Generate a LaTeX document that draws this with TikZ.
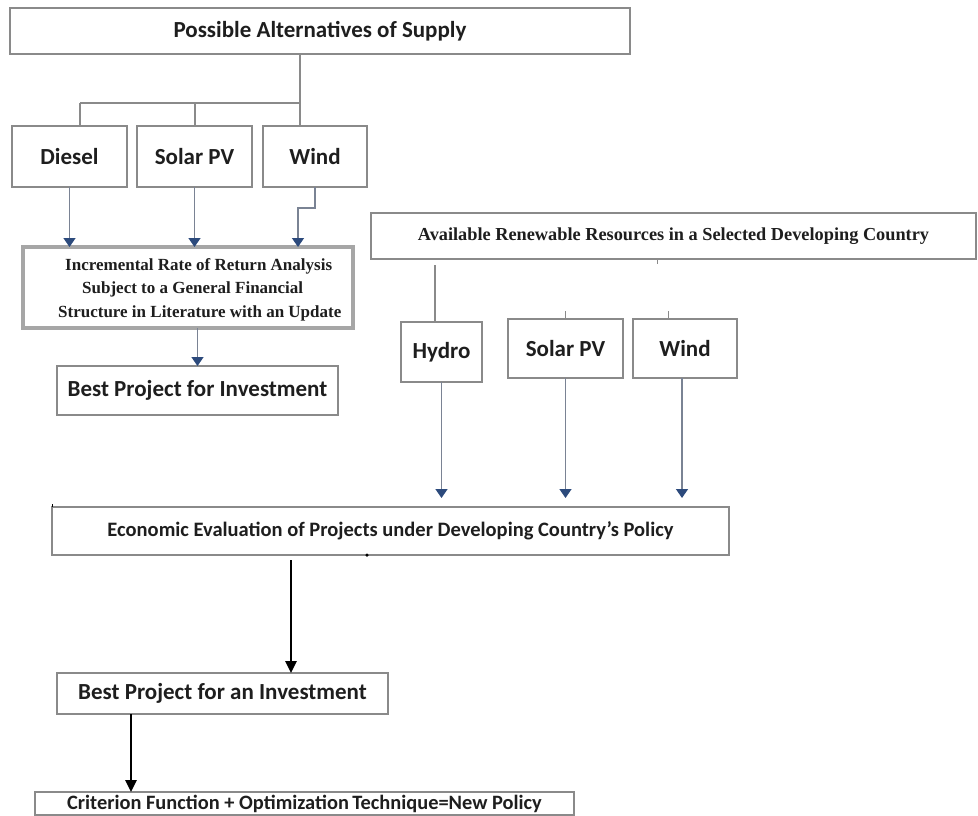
\documentclass[tikz,border=0pt]{standalone}
\usepackage{fontspec}
\setmainfont{Carlito}
\newfontfamily\serifface{Liberation Serif}
\usetikzlibrary{arrows.meta}

\definecolor{boxgray}{HTML}{8A8A8A}
\definecolor{thickgray}{HTML}{A6A6A6}
\definecolor{linkgray}{HTML}{7A8394}
\definecolor{navyhead}{HTML}{2C4A7C}
\definecolor{inktext}{HTML}{1E1E1E}

\tikzset{
  box/.style={draw=boxgray, line width=1.3pt, fill=white, inner sep=0pt, outer sep=0pt,
    anchor=north west, text=inktext, font=\fontsize{23}{27}\selectfont\bfseries},
  serifbox/.style={box, font=\serifface\fontsize{18.3}{21}\selectfont\bfseries},
  seriftext/.style={inner sep=0pt, anchor=base west, text=inktext,
    font=\serifface\fontsize{17}{20}\selectfont\bfseries},
  link/.style={draw=boxgray, line width=1.3pt},
  bluearrow/.style={draw=linkgray, line width=1.4pt,
    -{Triangle[width=12pt,length=9pt,color=navyhead]}},
  blackarrow/.style={draw=black, line width=2.6pt,
    -{Triangle[width=11pt,length=12pt]}}
}

\begin{document}
\begin{tikzpicture}[x=1pt,y=-1pt]
\useasboundingbox (0,0) rectangle (978,815);

% ---- left branch: supply alternatives ----
\node[box, minimum width=620pt, minimum height=46pt] (top) at (10,8) {Possible Alternatives of Supply};
\node[box, minimum width=115pt, minimum height=61pt] (diesel) at (12,126) {Diesel};
\node[box, minimum width=115pt, minimum height=61pt] (solarA) at (137,126) {Solar PV};
\node[box, minimum width=104pt, minimum height=61pt] (windA) at (263,126) {Wind};

\node[box, draw=thickgray, line width=4pt, minimum width=330pt, minimum height=81pt] (incr) at (23,247) {};
\node[seriftext] (incrA) at (65,270) {Incremental Rate of Return Analysis};
\node[seriftext] (incrB) at (82,293) {Subject to a General Financial};
\node[seriftext] (incrC) at (58,317) {Structure in Literature with an Update};

\node[box, minimum width=281pt, minimum height=49pt] (bestA) at (57,366) {Best Project for Investment};

% ---- right branch: renewable resources ----
\node[serifbox, minimum width=605pt, minimum height=46pt] (avail) at (371,213) {Available Renewable Resources in a Selected Developing Country};
\node[box, minimum width=81pt, minimum height=60pt] (hydro) at (401,322) {Hydro};
\node[box, minimum width=115pt, minimum height=59pt] (solarB) at (508,319) {Solar PV};
\node[box, minimum width=104pt, minimum height=59pt] (windB) at (633,319) {Wind};

% ---- common evaluation chain ----
\node[box, font=\fontsize{20.5}{24}\selectfont\bfseries, minimum width=677pt, minimum height=48pt] (econ) at (52,507) {Economic Evaluation of Projects under Developing Country’s Policy};
\node[box, minimum width=331pt, minimum height=41pt] (bestB) at (57,673) {Best Project for an Investment};
\node[box, font=\fontsize{20.4}{22}\selectfont\bfseries, minimum width=539pt, minimum height=23pt] (crit) at (35,792) {Criterion Function + Optimization\,Technique=New Policy};

% ---- tree under the supply box ----
\coordinate (split) at (300,103);
\coordinate (splitL) at (80,103);
\coordinate (splitM) at (195,103);
\draw[link] (top.south -| split) -- (split) -- (splitL);
\draw[link] (splitL) -- (splitL |- diesel.north);
\draw[link] (splitM) -- (splitM |- solarA.north);
\draw[link] (split) -- (split |- windA.north);

% ---- arrows into the rate-of-return box ----
\draw[bluearrow] (diesel.south) -- (diesel.south |- incr.north);
\draw[bluearrow] (solarA.south) -- (solarA.south |- incr.north);
\coordinate (windBend) at (298,208);
\draw[bluearrow] (windA.south) -- (windA.south |- windBend) -- (windBend) -- (windBend |- incr.north);
\draw[bluearrow] (incr.south -| bestA.north) -- (bestA.north);

% ---- stubs under the renewable box ----
\coordinate (hydroTop) at (435,265);
\draw[link] (hydroTop) -- (hydroTop |- hydro.north);
\coordinate (availTick) at (657,264);
\draw[link, line width=1pt] (availTick |- avail.south) -- (availTick);
\draw[link, line width=1pt] (solarB.north) ++(-0.5,0) -- ++(0,-8);
\draw[link, line width=1pt] (windB.north) ++(-17,0) -- ++(0,-8);

% ---- arrows into the evaluation box ----
\draw[bluearrow, shorten >=9pt] (hydro.south) -- (hydro.south |- econ.north);
\draw[bluearrow, shorten >=9pt] (solarB.south) -- (solarB.south |- econ.north);
\draw[bluearrow, shorten >=9pt] ([xshift=-3pt]windB.south) -- ([xshift=-3pt]windB.south |- econ.north);

% ---- small marks on the evaluation box ----
\draw[black, line width=1pt] (econ.north west) -- ++(0,-3);
\node[circle, fill=black, inner sep=0pt, minimum size=3.5pt] (econDot) at (367,555) {};

% ---- lower chain ----
\coordinate (econOut) at (291,560);
\draw[blackarrow] (econOut) -- (econOut |- bestB.north);
\coordinate (bestOut) at (131,714);
\draw[blackarrow] (bestOut) -- (bestOut |- crit.north);
\end{tikzpicture}
\end{document}
